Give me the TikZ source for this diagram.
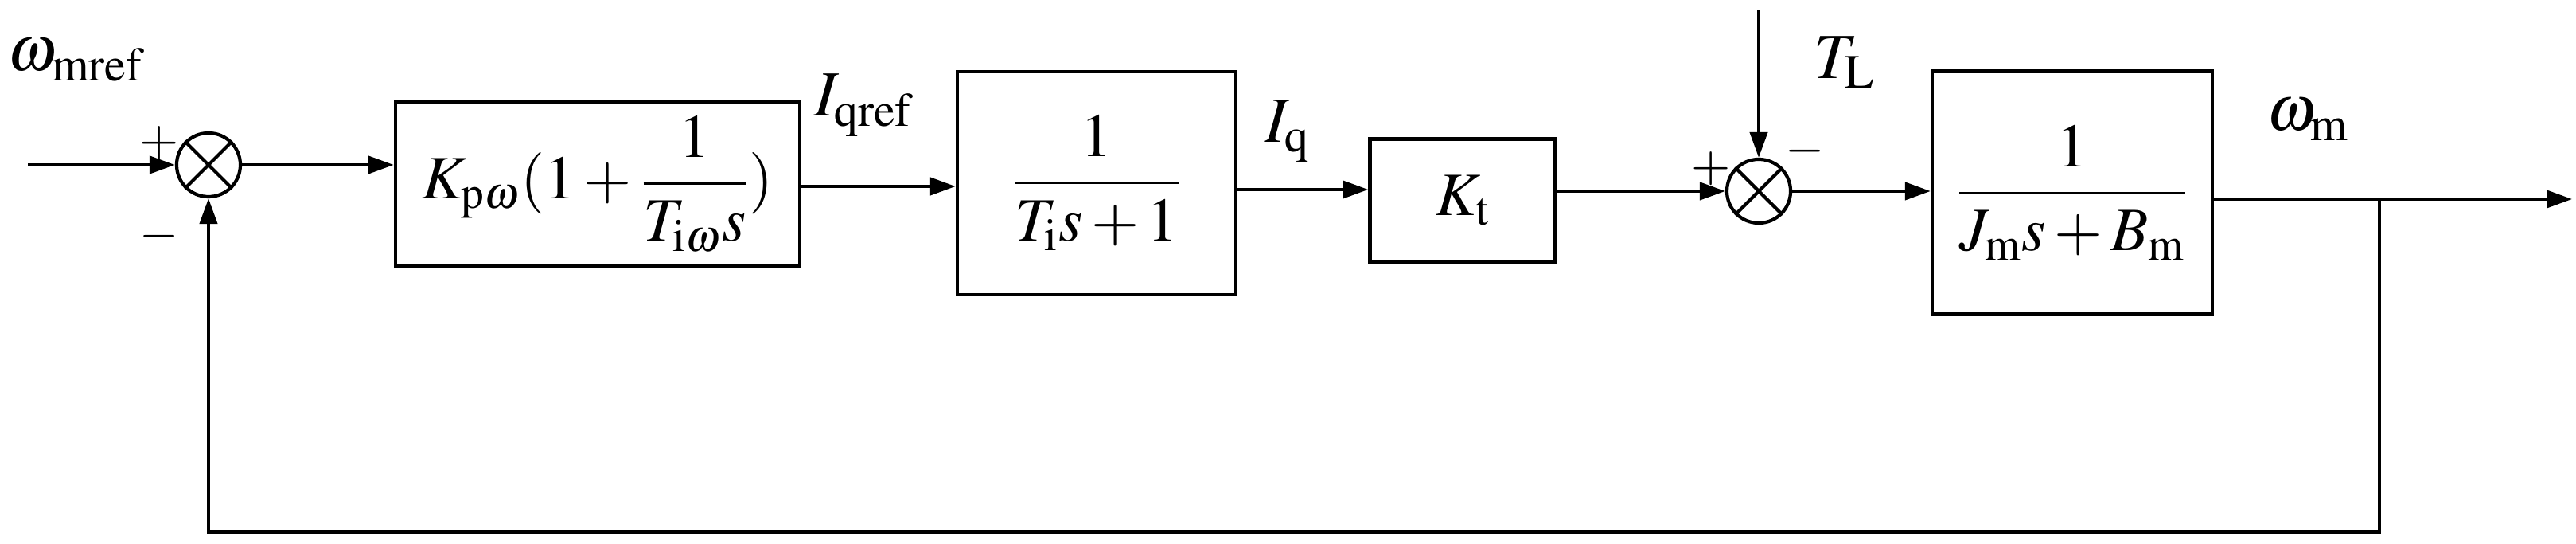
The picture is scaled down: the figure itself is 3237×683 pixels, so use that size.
\documentclass[tikz,border=0pt]{standalone}
\usepackage{amsmath}
\usepackage{mathptmx}
\usetikzlibrary{arrows.meta}
\begin{document}
\begin{tikzpicture}[x=0.01cm,y=-0.01cm,
  blk/.style={draw,line width=1.2pt,inner sep=0pt,font=\fontsize{22}{26}\selectfont},
  sumc/.style={draw,line width=1.2pt,circle,minimum size=0.8cm,inner sep=0pt},
  lab/.style={font=\fontsize{23}{27}\selectfont},
  sg/.style={font=\fontsize{18}{22}\selectfont},
  arr/.style={line width=1.2pt,-{Triangle[length=0.32cm,width=0.22cm]}},
  ln/.style={line width=1.2pt}]
\useasboundingbox (0,0) rectangle (3237,683);
\node[sumc] (s1) at (262,207) {};
\draw[ln] (s1.north west)--(s1.south east) (s1.north east)--(s1.south west);
\node[blk,minimum width=5.08cm,minimum height=2.07cm] (b1) at (751,231) {$K_{\mathrm{p}\omega}(1+\dfrac{1}{T_{\mathrm{i}\omega}s})$};
\node[blk,minimum width=3.5cm,minimum height=2.8cm] (b2) at (1378,230) {$\dfrac{1}{T_{\mathrm{i}}s+1}$};
\node[blk,minimum width=2.33cm,minimum height=1.55cm] (b3) at (1838,252) {$K_{\mathrm{t}}$};
\node[sumc] (s2) at (2210,240) {};
\draw[ln] (s2.north west)--(s2.south east) (s2.north east)--(s2.south west);
\node[blk,minimum width=3.52cm,minimum height=3.05cm] (b4) at (2604,242) {$\dfrac{1}{J_{\mathrm{m}}s+B_{\mathrm{m}}}$};
\coordinate (in) at (35,207);
\coordinate (tl) at (2210,12);
\coordinate (out) at (3232,250);
\coordinate (br) at (2990,250);
\draw[arr] (in)--(s1.west);
\draw[arr] (s1.east)--(b1.west|-s1);
\draw[arr] (b1.east|-0,234)--(b2.west|-0,234);
\draw[arr] (b2.east|-0,238)--(b3.west|-0,238);
\draw[arr] (b3.east|-s2)--(s2.west);
\draw[arr] (tl)--(s2.north);
\draw[arr] (s2.east)--(b4.west|-s2);
\draw[arr] (b4.east|-out)--(out);
\draw[arr] (br)--(2990,668)--(262,668)--(s1.south);
\node[lab] at (95,75) {$\omega_{\mathrm{mref}}$};
\node[lab] at (1085,132) {$I_{\mathrm{qref}}$};
\node[lab] at (1618,165) {$I_{\mathrm{q}}$};
\node[lab] at (2318,78) {$T_{\mathrm{L}}$};
\node[lab] at (2900,150) {$\omega_{\mathrm{m}}$};
\node[sg] at (200,180) {$+$};
\node[sg] at (200,297) {$-$};
\node[sg] at (2150,212) {$+$};
\node[sg] at (2268,190) {$-$};
\end{tikzpicture}
\end{document}
